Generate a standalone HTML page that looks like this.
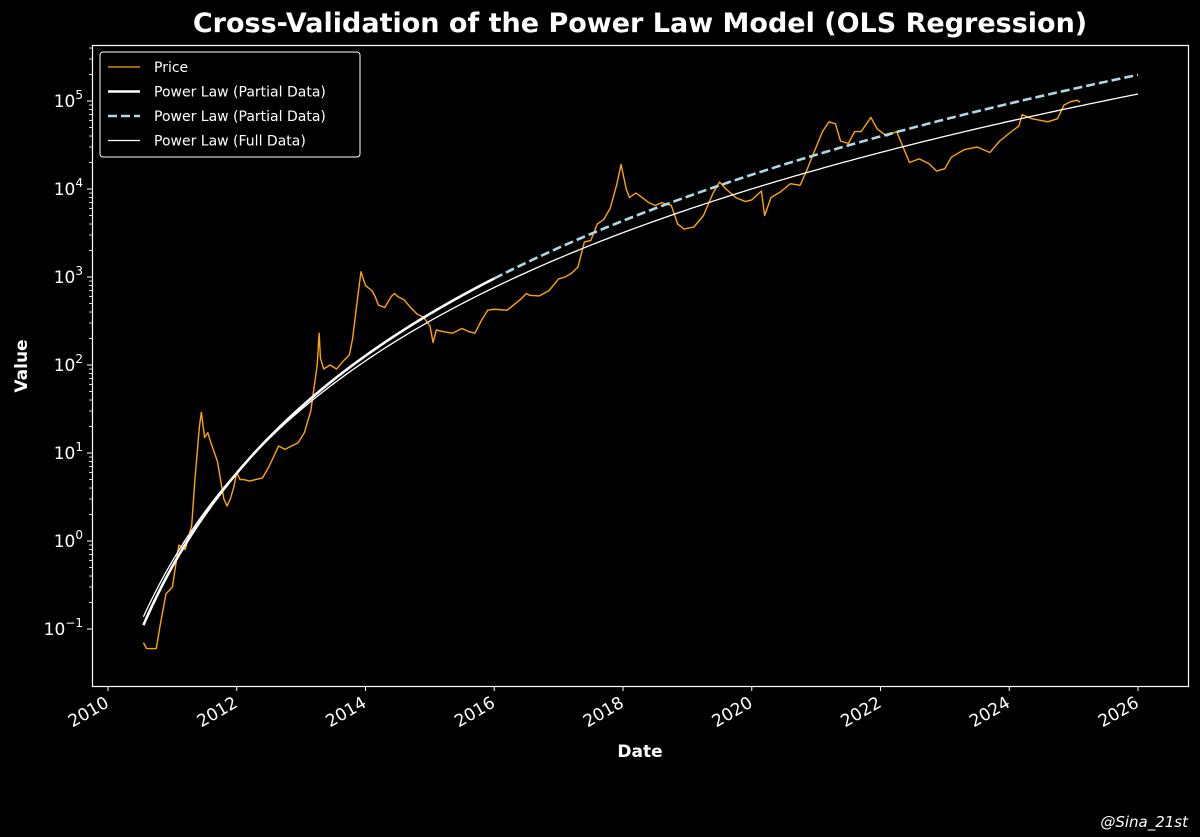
<!DOCTYPE html>
<html><head><meta charset="utf-8"><style>
html,body{margin:0;padding:0;background:#000;}
svg{display:block;font-family:"DejaVu Sans","Liberation Sans",sans-serif;}
</style></head><body>
<svg id="chart" width="1200" height="837" viewBox="0 0 1200 837">
<rect width="1200" height="837" fill="#000"/>
<text x="640" y="32" text-anchor="middle" fill="#fff" font-size="27" font-weight="bold">Cross-Validation of the Power Law Model (OLS Regression)</text>
<g id="plot"></g>
<text x="640" y="757" text-anchor="middle" fill="#fff" font-size="17" font-weight="bold">Date</text>
<text transform="translate(27,366) rotate(-90)" text-anchor="middle" fill="#fff" font-size="17" font-weight="bold">Value</text>
<text x="1188" y="827" text-anchor="end" fill="#fff" font-size="15" font-style="italic">@Sina_21st</text>
</svg>
<script>
const xTicks=[2010,2012,2014,2016,2018,2020,2022,2024,2026];
const yTickExps=[-1,0,1,2,3,4,5];
const priceYears=[2010.55,2010.6,2010.75,2010.8,2010.9,2011.0,2011.1,2011.2,2011.3,2011.35,2011.42,2011.45,2011.5,2011.55,2011.6,2011.7,2011.8,2011.85,2011.9,2011.95,2012.0,2012.05,2012.1,2012.2,2012.3,2012.4,2012.5,2012.6,2012.65,2012.75,2012.85,2012.95,2013.05,2013.15,2013.25,2013.28,2013.3,2013.35,2013.45,2013.55,2013.65,2013.75,2013.8,2013.88,2013.93,2014.0,2014.1,2014.15,2014.2,2014.3,2014.4,2014.45,2014.5,2014.6,2014.7,2014.8,2014.9,2015.0,2015.05,2015.1,2015.2,2015.35,2015.5,2015.6,2015.7,2015.8,2015.9,2016.0,2016.2,2016.4,2016.5,2016.55,2016.7,2016.85,2017.0,2017.1,2017.2,2017.3,2017.4,2017.5,2017.6,2017.7,2017.8,2017.9,2017.97,2018.05,2018.1,2018.2,2018.3,2018.4,2018.5,2018.6,2018.75,2018.85,2018.95,2019.1,2019.25,2019.4,2019.5,2019.6,2019.75,2019.9,2020.0,2020.15,2020.2,2020.3,2020.45,2020.6,2020.75,2020.85,2021.0,2021.1,2021.2,2021.3,2021.38,2021.5,2021.6,2021.7,2021.85,2021.95,2022.1,2022.25,2022.35,2022.45,2022.6,2022.75,2022.87,2023.0,2023.1,2023.3,2023.5,2023.7,2023.85,2024.0,2024.15,2024.2,2024.35,2024.5,2024.6,2024.75,2024.85,2024.95,2025.05,2025.1];
const priceValues=[0.07,0.06,0.06,0.1,0.25,0.3,0.9,0.8,1.5,5,20,29,15,17,13,8,3,2.5,3,4,6,5,5,4.8,5,5.2,7,10,12,11,12,13,17,30,100,230,120,90,100,90,110,130,200,600,1150,800,700,600,480,450,600,650,600,550,450,380,350,280,180,250,240,230,260,240,230,320,420,430,420,550,650,620,610,700,950,1000,1100,1300,2500,2600,4000,4500,6000,11000,19000,10000,8000,9000,8000,7000,6500,7000,6500,4000,3500,3700,5000,9000,12000,10000,8000,7200,7500,9500,5000,8000,9300,11500,11000,16000,30000,45000,58000,55000,35000,33000,45000,45000,65000,48000,40000,45000,30000,20000,22000,19500,16000,17000,23000,28000,30000,26000,35000,43000,52000,70000,63000,60000,58000,63000,90000,98000,102000,97000];
// power-law fit coefficients: log10(P) = a + b*log10(days since 2009-01-03)
const partialFit=[-17.46,6.0];
const fullFit=[-16.54,5.7];
const fitRange=[2010.55,2016.0,2026.0];

const NS="http://www.w3.org/2000/svg";
const plot=document.getElementById('plot');
const L=92,R=1188,T=45,B=686;
const xS=y=>108+(y-2010)*(1138-108)/16;
const yS=e=>541-e*88;
function mk(t,a){const e=document.createElementNS(NS,t);for(const k in a)e.setAttribute(k,a[k]);return e;}
function fitPath(f,y0,y1){let d="";for(let i=0;i<=200;i++){const yr=y0+(y1-y0)*i/200;const days=(yr-2009.008)*365.25;const lp=f[0]+f[1]*Math.log10(days);d+=(i?"L":"M")+xS(yr).toFixed(2)+","+yS(lp).toFixed(2);}return d;}

let d="";priceYears.forEach((yr,i)=>{d+=(i?"L":"M")+xS(yr).toFixed(2)+","+yS(Math.log10(priceValues[i])).toFixed(2);});
let p=mk('path',{d:d,fill:'none',stroke:'#ffa500','stroke-width':1.4,'stroke-linejoin':'round'});


plot.appendChild(p);
p=mk('path',{d:fitPath(fullFit,fitRange[0],fitRange[2]),fill:'none',stroke:'#fff','stroke-width':1.3});


plot.appendChild(p);
p=mk('path',{d:fitPath(partialFit,fitRange[0],fitRange[1]),fill:'none',stroke:'#fff','stroke-width':2.6});


plot.appendChild(p);
p=mk('path',{d:fitPath(partialFit,fitRange[1],fitRange[2]),fill:'none',stroke:'#add8e6','stroke-width':2.6,'stroke-dasharray':'9,4'});


plot.appendChild(p);

let fr=mk('rect',{x:L+0.5,y:T+0.5,width:R-L,height:B-T,fill:'none',stroke:'#fff','stroke-width':1.2});


plot.appendChild(fr);
xTicks.forEach(t=>{const x=xS(t);
 let l=mk('line',{x1:x,y1:B,x2:x,y2:B+5,stroke:'#fff'});
 
 
 plot.appendChild(l);
 let tx=mk('text',{transform:`translate(${x+2},${B+20}) rotate(-30)`,'text-anchor':'end',fill:'#fff','font-size':17});
 tx.textContent=t;
 
 
 plot.appendChild(tx);});
yTickExps.forEach(e=>{const y=yS(e);
 let l=mk('line',{x1:L-5,y1:y,x2:L,y2:y,stroke:'#fff'});
 
 
 plot.appendChild(l);
 let tx=mk('text',{x:L-9,y:y+6,'text-anchor':'end',fill:'#fff','font-size':17});
 tx.innerHTML='10<tspan dy="-8" font-size="12">'+(e<0?'\u2212'+(-e):e)+'</tspan>';
 
 
 plot.appendChild(tx);
 for(let k=2;k<10;k++){const ym=yS(e+Math.log10(k));if(ym<T||ym>B)continue;
  let m=mk('line',{x1:L-3,y1:ym,x2:L,y2:ym,stroke:'#fff','stroke-width':0.8});
  
  
  plot.appendChild(m);}
});
const lg=mk('g',{});


lg.appendChild(mk('rect',{x:100,y:52,width:260,height:105,rx:3,fill:'#000',stroke:'#fff','stroke-width':1}));
const ent=[['Price','#ffa500',1.3,''],['Power Law (Partial Data)','#fff',2.6,''],['Power Law (Partial Data)','#add8e6',2.6,'9,4'],['Power Law (Full Data)','#fff',1.3,'']];
ent.forEach((en,i)=>{const y=67+i*24.5;const g=mk('g',{});
 
 
 const a={x1:108,y1:y,x2:140,y2:y,stroke:en[1],'stroke-width':en[2]};if(en[3])a['stroke-dasharray']=en[3];
 g.appendChild(mk('line',a));
 const t=mk('text',{x:154,y:y+5,fill:'#fff','font-size':14});t.textContent=en[0];g.appendChild(t);lg.appendChild(g);});
plot.appendChild(lg);
</script>
</body></html>
